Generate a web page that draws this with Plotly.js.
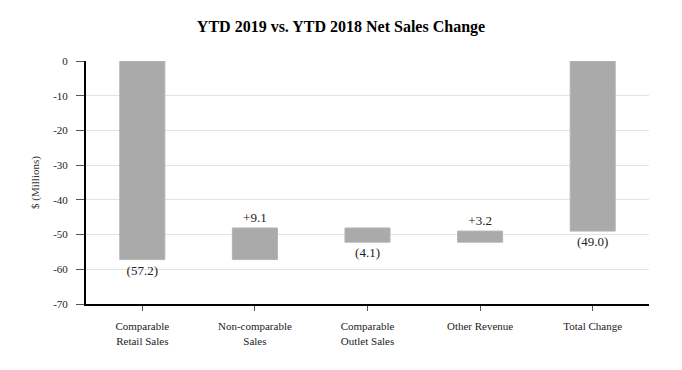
<!DOCTYPE html>
<html><head><meta charset="utf-8">
<script src="https://cdn.plot.ly/plotly-3.0.1.min.js"></script>
<style>html,body{margin:0;padding:0;background:#fff}#chart{width:682px;height:370px}</style>
</head><body><div id="chart"></div>
<script>
var categories = ["Comparable<br>Retail Sales", "Non-comparable<br>Sales", "Comparable<br>Outlet Sales", "Other Revenue", "Total Change"];
var changes = [-57.2, 9.1, -4.1, 3.2, -49.0];
var measures = ["relative", "relative", "relative", "relative", "total"];
var labels = ["(57.2)", "+9.1", "(4.1)", "+3.2", "(49.0)"];
var yTicks = [0, -10, -20, -30, -40, -50, -60, -70];

var SERIF = "'Liberation Serif', 'Times New Roman', serif";
var barStyle = {color: "#aaaaaa", line: {color: "#b4b4b4", width: 1}};
var trace = {
  type: "waterfall",
  x: categories,
  y: changes,
  measure: measures,
  text: labels,
  textposition: "outside",
  textfont: {family: SERIF, size: 13, color: "#222"},
  increasing: {marker: barStyle},
  decreasing: {marker: barStyle},
  totals: {marker: barStyle},
  connector: {visible: false},
  width: 0.4,
  cliponaxis: false,
  hoverinfo: "none"
};
var layout = {
  width: 682, height: 370,
  margin: {l: 86, r: 33, t: 61, b: 66},
  paper_bgcolor: "#fff", plot_bgcolor: "#fff",
  font: {family: SERIF, size: 11, color: "#222"},
  title: {text: "<b>YTD 2019 vs. YTD 2018 Net Sales Change</b>", x: 0.5, xanchor: "center", y: 0.93, yanchor: "middle",
          font: {family: SERIF, size: 16, color: "#000"}},
  showlegend: false,
  xaxis: {
    showline: true, linecolor: "#000", linewidth: 2,
    ticks: "outside", ticklen: 5, tickcolor: "#555", tickwidth: 1,
    ticklabelstandoff: 6,
    showgrid: false, zeroline: false,
    tickfont: {family: SERIF, size: 11, color: "#222"}
  },
  yaxis: {
    range: [-70, 0], tickvals: yTicks, ticktext: yTicks.map(String),
    showline: true, linecolor: "#000", linewidth: 2,
    ticks: "outside", ticklen: 8, tickcolor: "#555", tickwidth: 1,
    ticklabelstandoff: 6,
    showgrid: true, gridcolor: "#e3e3e3", gridwidth: 1, zeroline: false,
    tickfont: {family: SERIF, size: 11, color: "#222"},
    title: {text: "$ (Millions)", standoff: 11, font: {family: SERIF, size: 11, color: "#333"}}
  }
};
Plotly.newPlot("chart", [trace], layout, {displayModeBar: false, staticPlot: true});
</script>
</body></html>
